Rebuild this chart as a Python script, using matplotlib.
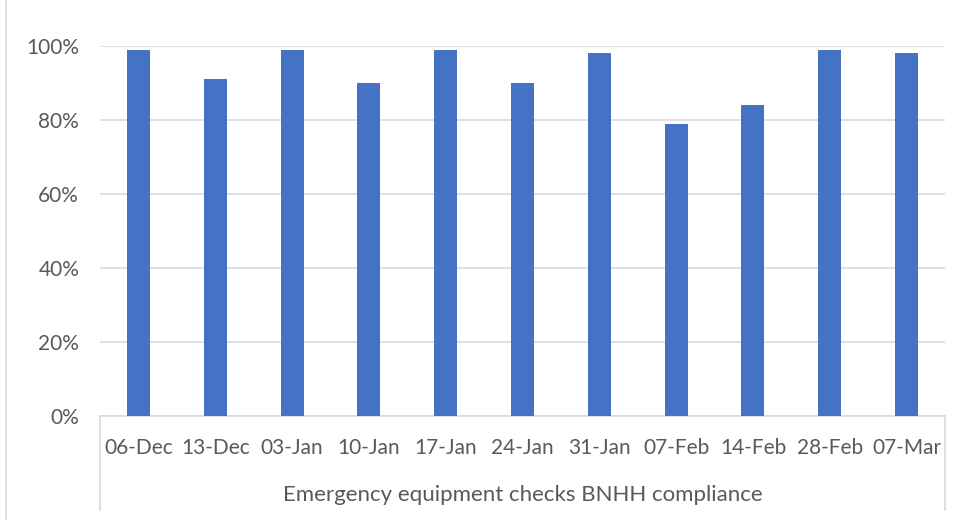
import matplotlib
matplotlib.use("Agg")
import matplotlib.pyplot as plt
from matplotlib.lines import Line2D
from matplotlib.ticker import PercentFormatter

# ---------- data ----------
weeks = ["06-Dec", "13-Dec", "03-Jan", "10-Jan", "17-Jan", "24-Jan",
         "31-Jan", "07-Feb", "14-Feb", "28-Feb", "07-Mar"]
compliance = [99, 91, 99, 90, 99, 90, 98, 79, 84, 99, 98]
group_label = "Emergency equipment checks BNHH compliance"
y_ticks = [0, 20, 40, 60, 80, 100]

BAR = "#4472C4"
GRID = "#D9D9D9"
TXT = "#595959"

plt.rcParams["font.family"] = ["Lato", "DejaVu Sans"]

fig = plt.figure(figsize=(9.66, 5.2), dpi=100)
W, H = 966, 520
left, right, top, base = 100, 945, 46, 416
ax = fig.add_axes([left / W, 1 - base / H, (right - left) / W, (base - top) / H])

x = range(len(weeks))
ax.bar(x, compliance, width=0.3, color=BAR, zorder=3)

ax.set_xlim(-0.5, len(weeks) - 0.5)
ax.set_ylim(0, 100)
ax.set_yticks(y_ticks)
ax.yaxis.set_major_formatter(PercentFormatter(decimals=0))
ax.grid(axis="y", color=GRID, linewidth=1.2, zorder=0)
ax.tick_params(axis="y", length=0, pad=15, labelsize=15, labelcolor=TXT)
ax.set_xticks(list(x))
ax.set_xticklabels(weeks)
ax.tick_params(axis="x", length=0, pad=16, labelsize=15, labelcolor=TXT)

for s in ["top", "left", "right"]:
    ax.spines[s].set_visible(False)
ax.spines["bottom"].set_color(GRID)
ax.spines["bottom"].set_linewidth(1.2)

# multi-level category box: side lines under the axis
for px in (left, right):
    fig.add_artist(Line2D([px / W, px / W], [1 - base / H, 1 - 510 / H],
                          color=GRID, linewidth=1.2))

# outer chart border on the left
fig.add_artist(Line2D([6 / W, 6 / W], [0, 1], color=GRID, linewidth=1.2))

fig.text((left + right) / 2 / W, 1 - 495 / H, group_label,
         ha="center", va="center", fontsize=16, color=TXT)

fig.savefig("out.png", dpi=100, facecolor="white")
